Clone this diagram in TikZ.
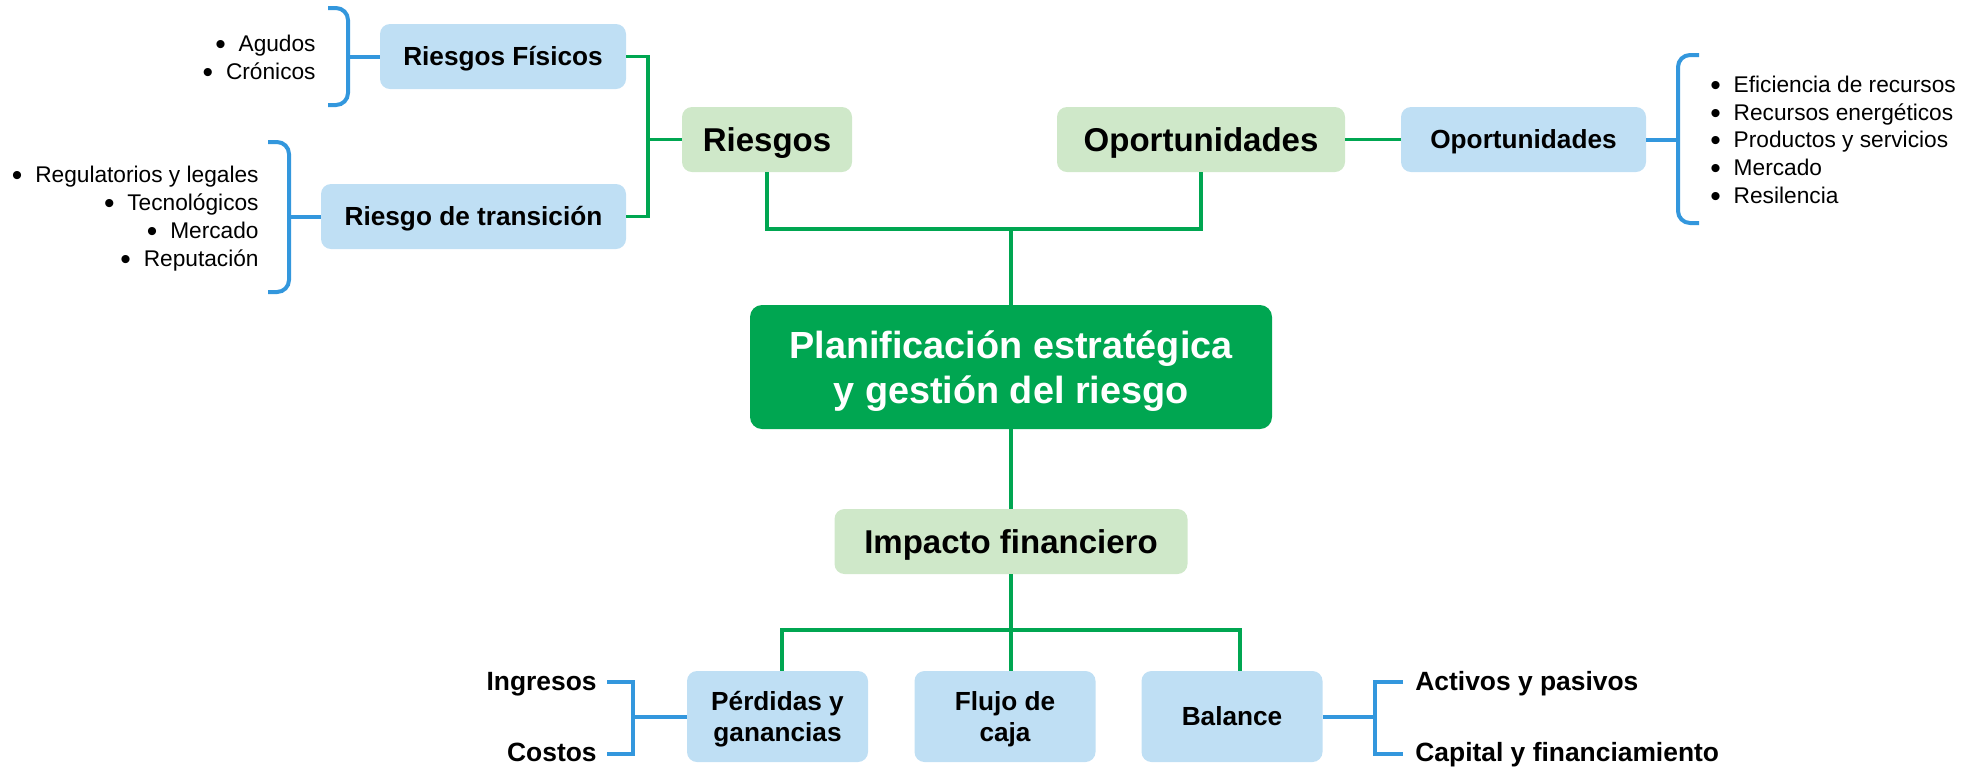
\documentclass[tikz,border=0pt]{standalone}
\usepackage{fontspec}
\setmainfont{Liberation Sans}
\definecolor{lgreen}{HTML}{CFE8C9}
\definecolor{lblue}{HTML}{BFDFF4}
\definecolor{dgreen}{HTML}{00A651}
\definecolor{lineg}{HTML}{00A651}
\definecolor{lineb}{HTML}{3397DD}
\newcommand{\bul}{\raisebox{-1.6pt}{\fontsize{15pt}{14pt}\selectfont\textbullet}\hspace{6.4pt}}
\begin{document}
\begin{tikzpicture}[x=0.5pt,y=-0.5pt,
  boxbase/.style={rounded corners=5pt, inner sep=0pt, align=center, text depth=0pt},
  bluebox/.style={boxbase, fill=lblue, minimum height=32.5pt, text height=9.4pt,
     font=\bfseries\fontsize{13.1pt}{15.5pt}\selectfont},
  bluebox2/.style={boxbase, fill=lblue, minimum height=45.5pt, minimum width=90.5pt,
     font=\bfseries\fontsize{13.1pt}{15.5pt}\selectfont},
  greenbox/.style={boxbase, fill=lgreen, minimum height=32.5pt, text height=11.8pt,
     font=\bfseries\fontsize{16.5pt}{19pt}\selectfont},
  mainbox/.style={boxbase, rounded corners=6pt, fill=dgreen, text=white,
     minimum width=261pt, minimum height=62pt,
     font=\bfseries\fontsize{18.9pt}{22.5pt}\selectfont},
  item/.style={inner sep=0pt, font=\fontsize{11.35pt}{14pt}\selectfont},
  blabel/.style={inner sep=0pt, font=\bfseries\fontsize{13.2pt}{15.5pt}\selectfont},
  gline/.style={draw=lineg, line width=1.9pt},
  bline/.style={draw=lineb, line width=2pt},
  brk/.style={bline, rounded corners=6pt}
]
\useasboundingbox (0,0) rectangle (1982,768);

% boxes
\node[bluebox, minimum width=123pt] (rf) at (503,56.5) {Riesgos Físicos};
\node[bluebox, minimum width=152.5pt] (rt) at (473.5,216.5) {Riesgo de transición};
\node[greenbox, minimum width=85pt] (ri) at (767,139.5) {Riesgos};
\node[greenbox, minimum width=144pt] (op) at (1201,139.5) {Oportunidades};
\node[bluebox, minimum width=122.5pt] (opb) at (1523.5,139.5) {Oportunidades};
\node[mainbox] (ctr) at (1011,367) {Planificación estratégica\\y gestión del riesgo};
\node[greenbox, minimum width=176.5pt] (imp) at (1011,541.5) {Impacto financiero};
\node[bluebox2] (pg) at (777.5,716.5) {Pérdidas y\\ganancias};
\node[bluebox2] (fc) at (1005,716.5) {Flujo de\\caja};
\node[bluebox2, text height=9.4pt] (bal) at (1232,716.5) {Balance};

% green connectors
\coordinate (j1) at (648,139.5);
\draw[gline] (rf.east) -| (j1) |- (rt.east);
\draw[gline] (j1) -- (ri.west);
\coordinate (j2) at (1011,229);
\draw[gline] (ri.south) |- (j2) -| (op.south);
\draw[gline] (j2) -- (ctr.north);
\draw[gline] (op.east) -- (opb.west);
\draw[gline] (ctr.south) -- (imp.north);
\coordinate (j3) at (1011,630);
\coordinate (d1) at (782,630);
\coordinate (d3) at (1240,630);
\draw[gline] (imp.south) -- (j3);
\draw[gline] (d1 |- pg.north) -- (d1) -- (d3) -- (d3 |- bal.north);
\draw[gline] (j3) -- (j3 |- fc.north);

% left top list
\node[item, anchor=base east] (a1) at (316,51) {\bul Agudos};
\node[item, anchor=base east] (a2) at (316,79) {\bul Crónicos};
\coordinate (b1) at (348,56.5);
\draw[brk] (328,8) -- (348,8) -- (348,105) -- (328,105);
\draw[bline] (b1) -- (rf.west);

% left lower list
\node[item, anchor=base east] (t1) at (259,182) {\bul Regulatorios y legales};
\node[item, anchor=base east] (t2) at (259,210) {\bul Tecnológicos};
\node[item, anchor=base east] (t3) at (259,238) {\bul Mercado};
\node[item, anchor=base east] (t4) at (259,266) {\bul Reputación};
\coordinate (b2) at (289,216.5);
\draw[brk] (268,142) -- (289,142) -- (289,292) -- (268,292);
\draw[bline] (b2) -- (rt.west);

% right list
\node[item, anchor=base west] (o1) at (1710,92) {\bul Eficiencia de recursos};
\node[item, anchor=base west] (o2) at (1710,120) {\bul Recursos energéticos};
\node[item, anchor=base west] (o3) at (1710,147) {\bul Productos y servicios};
\node[item, anchor=base west] (o4) at (1710,175) {\bul Mercado};
\node[item, anchor=base west] (o5) at (1710,203) {\bul Resilencia};
\coordinate (b3) at (1678,139.5);
\draw[brk] (1699,55) -- (1678,55) -- (1678,223) -- (1699,223);
\draw[bline] (opb.east) -- (b3);

% bottom left
\node[blabel, anchor=base east] (ing) at (597,690) {Ingresos};
\node[blabel, anchor=base east] (cos) at (597,761) {Costos};
\coordinate (b4) at (633,716.5);
\draw[bline] (607,682) -- (633,682) -- (633,754) -- (607,754);
\draw[bline] (b4) -- (pg.west);

% bottom right
\node[blabel, anchor=base west] (act) at (1415,690) {Activos y pasivos};
\node[blabel, anchor=base west] (cap) at (1415,761) {Capital y financiamiento};
\coordinate (b5) at (1375,716.5);
\draw[bline] (1403,682) -- (1375,682) -- (1375,754) -- (1403,754);
\draw[bline] (bal.east) -- (b5);
\end{tikzpicture}
\end{document}
